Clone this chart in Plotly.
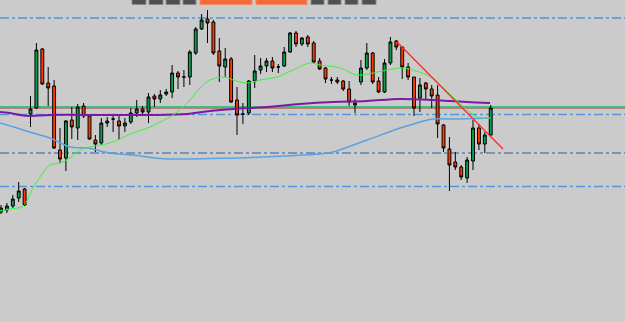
import plotly.graph_objects as go

# ---- candle data (chart price units) ----
opens = [110,112,116,124,133,208,214,273,239,236,172,164,202,194,216,206,182,179,199,203,
         201,196,200,209,213,210,226,223,228,230,249,245,245,269,293,303,300,271,255,263,
         222,208,209,241,252,256,261,255,256,270,289,278,285,279,261,254,242,242,241,233,
         219,240,254,269,241,230,259,281,275,255,245,224,239,233,227,197,173,160,155,144,
         161,194,178,187]
highs = [117,119,127,140,134,226,279,274,255,242,194,202,215,218,219,207,187,204,205,207,
         207,204,214,222,216,229,228,232,233,257,251,252,272,295,308,312,302,284,274,265,
         235,219,242,267,264,264,265,258,275,290,291,285,287,281,264,255,245,245,242,241,
         223,262,279,270,245,263,285,282,275,259,245,244,240,237,237,198,185,170,157,165,
         202,198,190,217]
lows = [108,109,114,120,116,195,213,237,216,173,159,151,183,182,204,182,170,177,195,190,
        182,190,198,205,207,199,215,219,226,224,233,235,237,267,292,279,267,240,245,219,
        187,198,207,234,248,250,250,249,255,269,275,276,275,259,252,239,238,238,231,216,
        209,237,252,238,229,229,257,272,243,242,206,210,222,214,184,170,131,152,142,139,
        152,172,169,186]
closes = [114,116,123,131,117,213,272,238,234,174,163,201,195,215,206,183,178,199,201,203,
          196,199,209,213,210,225,223,227,230,249,245,245,270,293,302,299,269,256,263,220,
          207,208,241,251,256,261,254,255,270,289,278,284,278,260,253,243,242,240,233,220,
          217,254,269,240,230,259,280,275,255,245,214,237,233,226,198,174,157,155,145,162,
          194,178,187,214]
idx = list(range(len(opens)))

# ---- moving averages (position in candle index, value) ----
ma_blue_x = [-0.17,2.71,5.42,8.31,11.69,14.58,18.47,22.37,26.95,31.53,35.42,40.51,47.8,
             54.07,56.27,62.03,67.63,69.32,73.22,76.1,82.88]
ma_blue_y = [199,194,189,184,175,174,169,167,163.5,163,163.5,164,166,168,170,182,194,197,203,
             203,204]
ma_purple_x = [-0.17,1.53,3.22,4.92,8.31,16.78,25.25,31.53,35.42,39.32,45.08,50.68,56.27,
               62.03,67.63,73.22,76.1,78.98,82.88]
ma_purple_y = [210,209,207,206,207,207,207,208,211,213,215,218,220,221,223,222,221,220,219]
ma_green_x = [-0.17,1.53,3.73,5.42,7.12,8.31,10,11.69,13.39,15.08,18.47,22.37,25.25,29.15,
              30.85,32.03,33.73,35.42,37.97,39.32,41.69,43.9,46.78,49.49,52.37,54.07,57.46,
              60.34,63.05,65.42,68.14,69.83,73.22,74.41,76.61,78.98,80.68,82.88]
ma_green_y = [111,113,116,134,149,157,159,164,172,175,179,189,195,207,215,222,234,242,245,
              242,239,242,245,252,259,257,254,247,249,252,254,252,244,237,225,212,205,204]

# ---- trendline ----
trend_x = [67.12, 85.08]
trend_y = [280, 173]

# ---- horizontal levels ----
lvl_blue = [304, 207.5, 135.5]
lvl_darkblue = [169]
lvl_green = [215.5]
lvl_brown = [214]

fig = go.Figure()

for lv in lvl_blue:
    fig.add_hline(y=lv, line=dict(color="#5594d6", width=1.5, dash="dashdot"), layer="below")
for lv in lvl_darkblue:
    fig.add_hline(y=lv, line=dict(color="#2f5f9c", width=1.2, dash="dashdot"), layer="below")
for lv in lvl_green:
    fig.add_hline(y=lv, line=dict(color="#3cbf86", width=1.2), layer="below")
for lv in lvl_brown:
    fig.add_hline(y=lv, line=dict(color="#a33a22", width=1.2), layer="below")

fig.add_trace(go.Scatter(x=ma_blue_x, y=ma_blue_y, mode="lines", line_shape="spline",
                         line=dict(color="#5aa2e0", width=1.5), hoverinfo="skip"))
fig.add_trace(go.Scatter(x=ma_purple_x, y=ma_purple_y, mode="lines", line_shape="spline",
                         line=dict(color="#7d18a6", width=2), hoverinfo="skip"))
fig.add_trace(go.Scatter(x=ma_green_x, y=ma_green_y, mode="lines", line_shape="spline",
                         line=dict(color="#3ef03e", width=1), hoverinfo="skip"))

fig.add_trace(go.Candlestick(
    x=idx, open=opens, high=highs, low=lows, close=closes,
    increasing=dict(line=dict(color="#000000", width=1), fillcolor="#0e9b4c"),
    decreasing=dict(line=dict(color="#000000", width=1), fillcolor="#ff3a00"),
    whiskerwidth=0, hoverinfo="skip"))

fig.add_trace(go.Scatter(x=trend_x, y=trend_y, mode="lines",
                         line=dict(color="#ff2a2a", width=1.3), hoverinfo="skip"))

# toolbar buttons (cropped UI at top edge)
W, H = 625, 322
dark_btns = [(132, 146), (149, 163), (166, 180), (183, 196), (311, 324), (328, 341), (345, 358), (362, 376)]
orange_btns = [(200, 252), (256, 307)]
for x0, x1 in dark_btns:
    fig.add_shape(type="rect", xref="paper", yref="paper", x0=x0 / W, x1=x1 / W,
                  y0=1 - 4.5 / H, y1=1.01, fillcolor="#505050",
                  line=dict(color="#8a8a8a", width=1), layer="above")
for x0, x1 in orange_btns:
    fig.add_shape(type="rect", xref="paper", yref="paper", x0=x0 / W, x1=x1 / W,
                  y0=1 - 4.5 / H, y1=1.01, fillcolor="#f26b3a",
                  line=dict(color="#f58a60", width=1), layer="above")

fig.update_layout(
    width=W, height=H, margin=dict(l=0, r=0, t=0, b=0),
    paper_bgcolor="#cbcbcb", plot_bgcolor="#cbcbcb",
    showlegend=False,
    xaxis=dict(range=[-0.17, 105.76], visible=False, rangeslider=dict(visible=False),
               showgrid=False, zeroline=False),
    yaxis=dict(range=[0, 322], visible=False, showgrid=False, zeroline=False),
)

fig.write_html("out.html")
